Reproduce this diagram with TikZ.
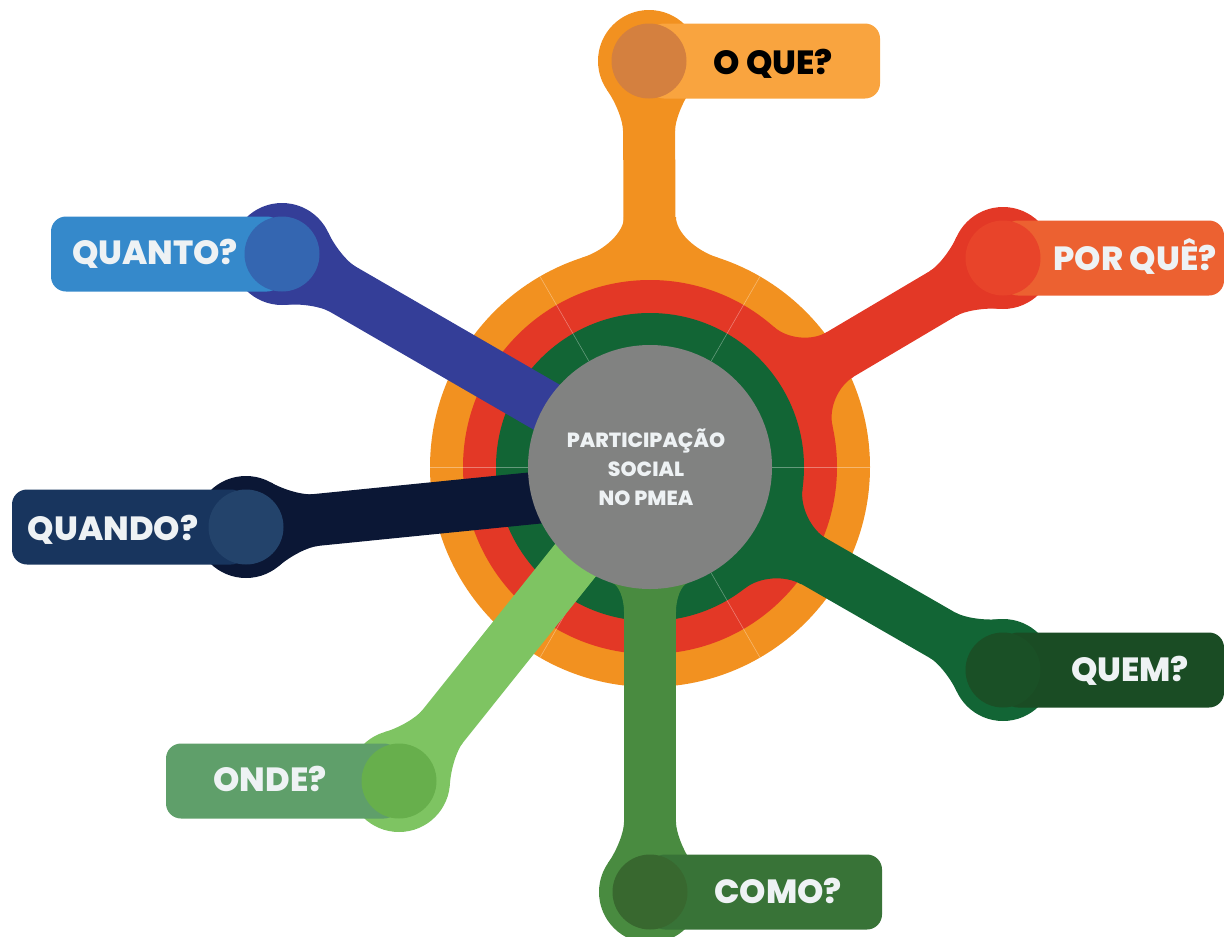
\documentclass[tikz,border=0pt]{standalone}
\usepackage{fontspec}
\setmainfont{Poppins}
\newfontfamily\heavyfont{Poppins ExtraBold}
\usetikzlibrary{calc}
\definecolor{orng}{HTML}{F29120}
\definecolor{oqbox}{HTML}{F9A43F}
\definecolor{oqin}{HTML}{D4803F}
\definecolor{rred}{HTML}{E33826}
\definecolor{pqbox}{HTML}{EC6131}
\definecolor{pqin}{HTML}{E8442A}
\definecolor{dgrn}{HTML}{126535}
\definecolor{qmbox}{HTML}{1A4C24}
\definecolor{qmin}{HTML}{1A5026}
\definecolor{coarm}{HTML}{498B40}
\definecolor{cobox}{HTML}{387337}
\definecolor{coin}{HTML}{38682F}
\definecolor{onarm}{HTML}{7EC462}
\definecolor{onbox}{HTML}{5F9F6A}
\definecolor{onin}{HTML}{67AF4C}
\definecolor{qdarm}{HTML}{0B1735}
\definecolor{qdbox}{HTML}{18355E}
\definecolor{qdin}{HTML}{23436B}
\definecolor{qtarm}{HTML}{343E98}
\definecolor{qtbox}{HTML}{3589CB}
\definecolor{qtin}{HTML}{3466B1}
\definecolor{gry}{HTML}{818281}
\definecolor{txtl}{HTML}{EEF2F4}
% #1 colour, #2 #3 centre (px), #4 arm angle, #5 circle radius, #6 half width, #7 start angle, #8 run-out
\newcommand\armfillet[8]{%
  \begin{scope}[shift={(#2,#3)},rotate=#4]
    \pgfmathsetmacro\fPx{#5*cos(#7)}
    \pgfmathsetmacro\fPy{#5*sin(#7)}
    \pgfmathsetmacro\fPyn{-\fPy}
    \pgfmathsetmacro\fSs{(\fPy-#6)/cos(#7)}
    \pgfmathsetmacro\fQx{\fPx+\fSs*sin(#7)+#8}
    \pgfmathsetmacro\fAx{\fPx+0.55*\fSs*sin(#7)}
    \pgfmathsetmacro\fAy{\fPy-0.55*\fSs*cos(#7)}
    \pgfmathsetmacro\fAyn{-\fAy}
    \pgfmathsetmacro\fBx{\fQx-0.55*#8}
    \fill[#1] (0,0) -- (\fPx,\fPy) .. controls (\fAx,\fAy) and (\fBx,#6) .. (\fQx,#6)
      -- (\fQx,-#6) .. controls (\fBx,-#6) and (\fAx,\fAyn) .. (\fPx,\fPyn) -- cycle;
  \end{scope}}
\begin{document}
\begin{tikzpicture}[x=1pt,y=-1pt,
  armline/.style={line width=52pt},
  seam/.style={white,opacity=0.35,line width=0.6pt},
  lab/.style={font=\heavyfont\fontsize{33.5}{33.5}\selectfont,text=txtl,inner sep=0pt,anchor=base},
  ctxt/.style={font=\heavyfont\fontsize{20.5}{20.5}\selectfont,text=txtl,inner sep=0pt,anchor=base},
  boxr/.style={rounded corners=15pt}]
\useasboundingbox (0,0) rectangle (1224,937);
\clip (0,0) rectangle (1224,937);
\coordinate (c) at (650,467);
\coordinate (oque) at (649,61);
\coordinate (pq) at (1003,258);
\coordinate (qm) at (1003,670);
\coordinate (como) at (650,892);
\coordinate (onde) at (399,781);
\coordinate (qdo) at (246,527);
\coordinate (qdend) at (644,487);
\coordinate (qto) at (282,254);
% orange layer
\fill[orng] (c) circle[radius=220pt];
\draw[armline,orng] (c) -- (oque);
\armfillet{orng}{650}{467}{90}{220}{26}{18}{27}
\armfillet{orng}{649}{61}{-90}{51}{26}{55}{18}
% red layer
\fill[rred] (c) circle[radius=187pt];
\draw[armline,rred] (c) -- (pq);
\armfillet{rred}{650}{467}{30.6}{187}{26}{18}{33}
\armfillet{rred}{1003}{258}{210.6}{51}{26}{55}{18}
% green layer
\fill[dgrn] (c) circle[radius=154pt];
\draw[armline,dgrn] (c) -- (qm);
\armfillet{dgrn}{650}{467}{-30}{154}{26}{22}{34}
\armfillet{dgrn}{1003}{670}{150}{51}{26}{55}{18}
% seams
\foreach \a in {0,60,...,300}
  \draw[seam] ($(c)+(\a:122pt)$) -- ($(c)+(\a:220pt)$);
% other arms
\draw[armline,coarm] (c) -- (como);
\armfillet{coarm}{650}{467}{-90}{122}{26}{18}{25}
\armfillet{coarm}{650}{892}{90}{51}{26}{55}{18}
\draw[armline,onarm] (c) -- (onde);
\armfillet{onarm}{399}{781}{51.4}{51}{26}{55}{18}
\draw[armline,qtarm] (c) -- (qto);
\armfillet{qtarm}{282}{254}{-30.1}{51}{26}{55}{18}
\draw[armline,qdarm] (qdo) -- (qdend);
\armfillet{qdarm}{246}{527}{5.7}{51}{26}{55}{18}
% centre
\fill[gry] (c) circle[radius=122pt];
\node[ctxt] (ct1) at (646,447.5) {PARTICIPAÇÃO};
\node[ctxt] (ct2) at (646,476.5) {SOCIAL};
\node[ctxt] (ct3) at (646,505.5) {NO PMEA};
% labels
\fill[orng] (oque) circle[radius=51pt];
\fill[oqbox,boxr] (649,23.5) rectangle (880,98.5);
\fill[oqin] (oque) circle[radius=37.5pt];
\node[lab,text=black] (toque) at (773,74) {O QUE?};

\fill[rred] (pq) circle[radius=51pt];
\fill[pqbox,boxr] (1003,220.5) rectangle (1224,295.5);
\fill[pqin] (pq) circle[radius=37.5pt];
\node[lab] (tpq) at (1135,270) {POR QUÊ?};

\fill[dgrn] (qm) circle[radius=51pt];
\fill[qmbox,boxr] (1003,632.5) rectangle (1224,707.5);
\fill[qmin] (qm) circle[radius=37.5pt];
\node[lab] (tqm) at (1130,681.5) {QUEM?};

\fill[coarm] (como) circle[radius=51pt];
\fill[cobox,boxr] (650,854.5) rectangle (882,929.5);
\fill[coin] (como) circle[radius=37.5pt];
\node[lab] (tco) at (778,903.5) {COMO?};

\fill[onarm] (onde) circle[radius=51pt];
\fill[onbox,boxr] (166,743.5) rectangle (399,818.5);
\fill[onin] (onde) circle[radius=37.5pt];
\node[lab] (ton) at (270,791.5) {ONDE?};

\fill[qdarm] (qdo) circle[radius=51pt];
\fill[qdbox,boxr] (12,489.5) rectangle (246,564.5);
\fill[qdin] (qdo) circle[radius=37.5pt];
\node[lab] (tqd) at (113,540) {QUANDO?};

\fill[qtarm] (qto) circle[radius=51pt];
\fill[qtbox,boxr] (51,216.5) rectangle (282,291.5);
\fill[qtin] (qto) circle[radius=37.5pt];
\node[lab] (tqt) at (155,264.5) {QUANTO?};
\end{tikzpicture}
\end{document}
